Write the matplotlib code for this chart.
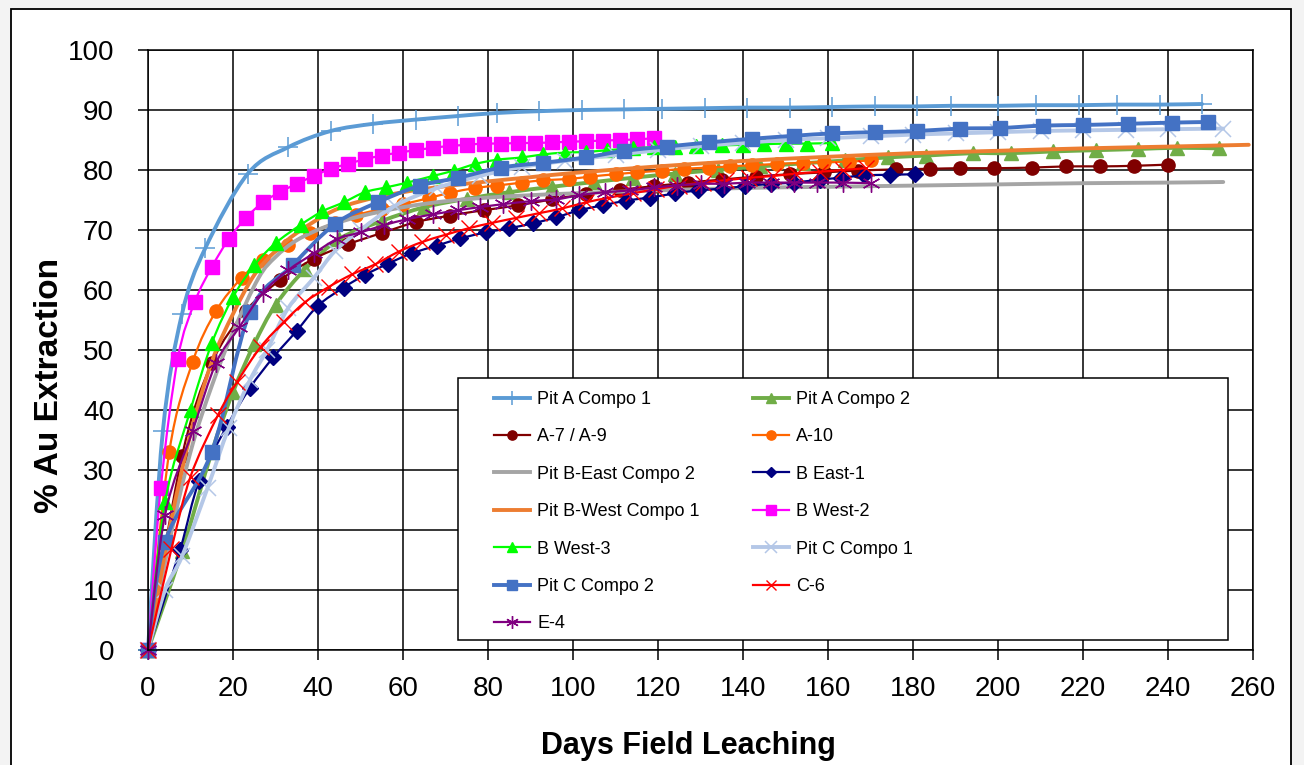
import matplotlib
matplotlib.use('Agg')
import matplotlib.pyplot as plt
from matplotlib.patches import Rectangle, PathPatch
from matplotlib.path import Path
from matplotlib.lines import Line2D

plt.rcParams['font.family'] = ['Liberation Sans', 'DejaVu Sans']

# ---- data (days, % Au extraction) ----
pitA1_days = [0, 3.5, 8, 13.5, 23.5, 33, 43, 53, 63, 73, 82, 92, 102, 112, 121, 131, 141, 151,
              161, 171, 181, 189, 200, 209, 219, 228, 238, 248]
pitA1_vals = [0, 36.5, 56, 67, 79.4, 83.8, 86.5, 87.7, 88.4, 89.0, 89.5, 89.8, 90.0, 90.1, 90.2,
              90.3, 90.4, 90.4, 90.5, 90.6, 90.6, 90.7, 90.7, 90.8, 90.8, 90.9, 90.9, 91.0]

pitA2_days = [0, 8, 15, 20, 25, 30, 37, 45, 55, 65, 75, 85, 95, 105, 114, 124, 134, 144, 154,
              164, 174, 183, 194, 203, 213, 223, 233, 242, 252]
pitA2_vals = [0, 16.5, 33, 43, 51, 57.5, 63.5, 68.5, 71.5, 73.8, 75.2, 76.3, 77.2, 78.0, 78.7,
              79.4, 80.0, 80.6, 81.1, 81.6, 82.1, 82.4, 82.8, 82.8, 83.1, 83.3, 83.5, 83.7, 83.6]

a79_days = [0, 8, 15, 23, 31, 39, 47, 55, 63, 71, 79, 87, 95, 103, 111, 119, 127, 135, 143, 151,
            159, 167, 176, 184, 191, 199, 208, 216, 224, 232, 240]
a79_vals = [0, 32.3, 47.8, 56.5, 61.6, 65.2, 67.6, 69.5, 71.3, 72.4, 73.3, 74.1, 75.1, 76.0, 76.7,
            77.3, 77.9, 78.4, 78.9, 79.3, 79.6, 79.9, 80.1, 80.2, 80.3, 80.3, 80.4, 80.6, 80.6,
            80.7, 80.9]

a10_days = [0, 5, 10.5, 16, 22, 27, 33, 38, 44, 49, 55, 60, 66, 71, 77, 82, 88, 93, 99, 104, 110,
            115, 121, 126, 132, 137, 142, 148, 154, 159, 165, 170]
a10_vals = [0, 33, 48, 56.5, 62, 65, 67.5, 69.5, 71.2, 72.5, 73.5, 74.3, 75.3, 76.2, 77.0, 77.4,
            77.9, 78.3, 78.5, 78.9, 79.3, 79.6, 79.9, 80.2, 80.4, 80.6, 80.8, 81.0, 81.2, 81.3,
            81.4, 81.6]

pitBE2_days = [0, 5, 10, 15, 20, 26, 30, 35, 42, 50, 60, 70, 80, 90, 100, 120, 140, 160, 180,
               200, 220, 240, 253]
pitBE2_vals = [0, 18, 33, 44, 53, 62, 65.5, 68.3, 70.6, 72.3, 73.8, 74.8, 75.4, 75.8, 76.1, 76.6,
               77.0, 77.2, 77.4, 77.6, 77.8, 77.9, 78.0]

be1_days = [0, 7.5, 12, 18.5, 24, 29.5, 35, 40, 46, 51, 56.5, 62, 68, 73.5, 79.5, 85, 90.5, 96,
            101.5, 107, 112.5, 118, 124, 129.5, 135, 140.5, 146.5, 152, 158, 163, 168.5, 174.5,
            180.5]
be1_vals = [0, 16.6, 28.1, 37.2, 43.7, 48.8, 53.2, 57.4, 60.4, 62.5, 64.4, 66.1, 67.4, 68.6, 69.6,
            70.3, 71.1, 72.1, 73.3, 74.1, 74.9, 75.4, 76.1, 76.6, 76.9, 77.3, 77.7, 77.9, 78.4,
            78.7, 79.1, 79.2, 79.3]

pitBW1_days = [0, 5, 10, 15, 20, 25, 30, 35, 43, 50, 60, 70, 80, 90, 100, 120, 140, 160, 180,
               200, 220, 240, 259]
pitBW1_vals = [0, 20, 36, 48, 56, 62.5, 66.5, 69.5, 73, 74.8, 76.3, 77.3, 78.1, 78.8, 79.5, 80.6,
               81.5, 82.2, 82.8, 83.2, 83.6, 83.9, 84.2]

bw2_days = [0, 3, 7, 11, 15, 19, 23, 27, 31, 35, 39, 43, 47, 51, 55, 59, 63, 67, 71, 75, 79, 83,
            87, 91, 95, 99, 103, 107, 111, 115, 119]
bw2_vals = [0, 27, 48.5, 58, 63.8, 68.5, 72, 74.6, 76.3, 77.7, 79, 80.2, 81.0, 81.8, 82.4, 82.9,
            83.3, 83.7, 84.0, 84.2, 84.4, 84.4, 84.5, 84.5, 84.6, 84.7, 84.8, 84.9, 85.0, 85.1,
            85.3]

bw3_days = [0, 4, 10, 15, 20, 25, 30, 36, 41, 46, 51, 56, 61, 67, 72, 77, 82, 88, 93, 98, 103,
            108, 114, 119, 124, 129, 135, 140, 145, 150, 155, 161]
bw3_vals = [0, 24.6, 40, 51.1, 58.8, 64.1, 67.8, 70.9, 73.1, 74.6, 76.3, 77.1, 77.9, 79, 79.9,
            81, 81.7, 82.1, 82.6, 82.9, 83.0, 83.3, 83.6, 83.8, 83.9, 84.0, 84.1, 84.2, 84.3,
            84.4, 84.4, 84.5]

pitC1_days = [0, 4, 8, 14, 19, 24, 28, 33, 39, 44, 50, 58, 68, 78, 88, 98, 110, 120, 130, 140,
              150, 160, 170, 180, 190, 200, 210, 220, 230, 240, 253]
pitC1_vals = [0, 10, 15.6, 27, 37, 45, 50, 57, 62, 66.5, 70, 74, 77, 79, 80.5, 81.5, 82.5, 83.3,
              84, 84.5, 85, 85.3, 85.6, 85.9, 86.1, 86.3, 86.5, 86.6, 86.7, 86.8, 86.9]

pitC2_days = [0, 4, 15, 24, 34, 44, 54, 64, 73, 83, 93, 103, 112, 122, 132, 142, 152, 161, 171,
              181, 191, 200.5, 210.5, 220, 230.5, 241, 249.5]
pitC2_vals = [0, 18, 33, 56.3, 64.1, 71, 74.6, 77.4, 78.7, 80.4, 81.2, 82.1, 83.2, 83.9, 84.6,
              85.2, 85.7, 86.1, 86.3, 86.5, 86.9, 87.0, 87.4, 87.5, 87.7, 87.9, 88.0]

c6_days = [0, 5.5, 10, 16.5, 21, 26.5, 32, 37, 42.5, 48, 53.5, 59, 64.5, 70, 75.5, 81, 86.5, 92,
           97.5, 103, 108.5, 114, 119.5, 125, 130.5, 136, 141.5, 147, 152.5, 158, 163.5, 169]
c6_vals = [0, 16.8, 28.9, 39.2, 44.7, 50.5, 54.7, 58, 60.5, 62.6, 64.3, 66.4, 68, 69.2, 70.3,
           71.2, 72, 72.8, 73.6, 74.6, 75.4, 76.1, 76.8, 77.4, 77.9, 78.3, 78.7, 79.0, 79.4, 79.7,
           80.0, 80.3]

e4_days = [0, 4, 10.5, 16, 21.5, 27, 33, 39, 44.5, 50, 55.5, 61, 67, 73, 78, 83.5, 90, 96, 101.5,
           107.5, 113.5, 119, 124.5, 130, 135.5, 141, 146.5, 152, 157.5, 163.5, 170]
e4_vals = [0, 22.5, 36.5, 47.8, 53.8, 59.5, 63.3, 66.1, 68.5, 69.6, 70.8, 71.8, 72.6, 73.3, 73.8,
           74.3, 74.8, 75.1, 75.8, 76.3, 76.6, 77.1, 77.4, 77.7, 77.7, 77.9, 77.9, 77.9, 77.9,
           77.9, 77.8]

labels = ['Pit A Compo 1', 'Pit A Compo 2', 'A-7 / A-9', 'A-10', 'Pit B-East Compo 2', 'B East-1',
          'Pit B-West Compo 1', 'B West-2', 'B West-3', 'Pit C Compo 1', 'Pit C Compo 2', 'C-6',
          'E-4']
x_ticks = list(range(0, 261, 20))
y_ticks = list(range(0, 101, 10))

# ---- styles ----
THICK, THIN = 2.8, 1.6
asterisk = (6, 2, 0)
series = [
    (pitA1_days, pitA1_vals, dict(color='#5B9BD5', lw=THICK, marker='+', ms=15, mew=1.1)),
    (pitA2_days, pitA2_vals, dict(color='#70AD47', lw=THICK, marker='^', ms=10)),
    (a79_days, a79_vals, dict(color='#800000', lw=THIN, marker='o', ms=9.5)),
    (a10_days, a10_vals, dict(color='#FF6600', lw=THIN, marker='o', ms=9.5)),
    (pitBE2_days, pitBE2_vals, dict(color='#A5A5A5', lw=THICK)),
    (be1_days, be1_vals, dict(color='#000080', lw=THIN, marker='D', ms=8)),
    (pitBW1_days, pitBW1_vals, dict(color='#ED7D31', lw=THICK)),
    (bw2_days, bw2_vals, dict(color='#FF00FF', lw=THIN, marker='s', ms=10.5)),
    (bw3_days, bw3_vals, dict(color='#00FF00', lw=THIN, marker='^', ms=10)),
    (pitC1_days, pitC1_vals, dict(color='#B4C7E7', lw=THICK, marker='x', ms=12, mew=1.1)),
    (pitC2_days, pitC2_vals, dict(color='#4472C4', lw=THICK, marker='s', ms=10)),
    (c6_days, c6_vals, dict(color='#FF0000', lw=THIN, marker='x', ms=11, mew=1.0)),
    (e4_days, e4_vals, dict(color='#800080', lw=THIN, marker=asterisk, ms=13, mew=1.0)),
]


def smooth_path(xs, ys):
    """Excel-like smoothed line: cubic Bezier through the data points."""
    pts = list(zip(xs, ys))
    verts = [pts[0]]
    codes = [Path.MOVETO]
    n = len(pts)
    for i in range(n - 1):
        p0 = pts[i - 1] if i > 0 else pts[i]
        p1, p2 = pts[i], pts[i + 1]
        p3 = pts[i + 2] if i + 2 < n else pts[i + 1]
        c1 = (p1[0] + (p2[0] - p0[0]) / 6, p1[1] + (p2[1] - p0[1]) / 6)
        c2 = (p2[0] - (p3[0] - p1[0]) / 6, p2[1] - (p3[1] - p1[1]) / 6)
        verts += [c1, c2, p2]
        codes += [Path.CURVE4] * 3
    return Path(verts, codes)


W, H = 1304, 765
fig = plt.figure(figsize=(W / 100, H / 100), dpi=100, facecolor='#F3F3F3')
fig.patches.append(Rectangle((11 / W, -0.05), (1291 - 11) / W, 1.05 - 9 / H,
                             transform=fig.transFigure, fc='white', ec='black', lw=1.3,
                             zorder=-1))

ax = fig.add_axes([148 / W, 1 - 650 / H, (1253 - 148) / W, (650 - 50) / H])
ax.set_xlim(0, 260)
ax.set_ylim(0, 100)
ax.set_xticks(x_ticks)
ax.set_yticks(y_ticks)
ax.grid(True, color='black', lw=1.1, zorder=0)
ax.set_axisbelow(True)
for sp in ax.spines.values():
    sp.set_color('black')
    sp.set_linewidth(1.1)
ax.tick_params(direction='out', length=7.5, width=1.1, labelsize=20, color='black')
ax.tick_params(axis='y', pad=17)
ax.tick_params(axis='x', pad=11)

handles = []
for i, (d, v, st) in enumerate(series):
    z = 2 + i * 0.02
    ax.add_patch(PathPatch(smooth_path(d, v), fill=False, edgecolor=st['color'], lw=st['lw'],
                           capstyle='round', joinstyle='round', zorder=z, clip_on=False))
    if 'marker' in st:
        ax.plot(d, v, ls='none', marker=st['marker'], ms=st['ms'], mew=st.get('mew', 1.0),
                color=st['color'], zorder=z + 0.01, clip_on=False)
    handles.append(Line2D([], [], label=labels[i], color=st['color'], lw=st['lw'],
                          marker=st.get('marker', 'None'), ms=st.get('ms', 0) * 0.7,
                          mew=st.get('mew', 1.0)))

ax.set_xlabel('Days Field Leaching', fontsize=22, fontweight='bold')
ax.set_ylabel('% Au Extraction', fontsize=24, fontweight='bold')
ax.xaxis.set_label_coords((688 - 148) / (1253 - 148), -(746 - 650) / 600)
ax.xaxis.label.set_va('center')
ax.yaxis.set_label_coords(-(148 - 50) / (1253 - 148), (650 - 385) / 600)
ax.yaxis.label.set_va('center')


# legend box
def px(x, y):
    return (x / W, 1 - y / H)


fig.patches.append(Rectangle(px(458, 640), (1228 - 458) / W, (640 - 378) / H,
                             transform=fig.transFigure, fc='white', ec='black', lw=1.1,
                             zorder=5))

leg_font = dict(family='Liberation Sans', size=13)
left = [handles[i] for i in (0, 2, 4, 6, 8, 10, 12)]
right = [handles[i] for i in (1, 3, 5, 7, 9, 11)]
common = dict(frameon=False, borderpad=0, borderaxespad=0, handlelength=2.0,
              handletextpad=0.4, labelspacing=1.13, prop=leg_font, loc='upper left',
              bbox_transform=fig.transFigure)
leg1 = fig.legend(handles=left, labels=[h.get_label() for h in left],
                  bbox_to_anchor=px(494, 391), **common)
leg2 = fig.legend(handles=right, labels=[h.get_label() for h in right],
                  bbox_to_anchor=px(753, 391), **common)
for lg in (leg1, leg2):
    lg.set_zorder(6)

fig.savefig('out.png', dpi=100, facecolor=fig.get_facecolor())
